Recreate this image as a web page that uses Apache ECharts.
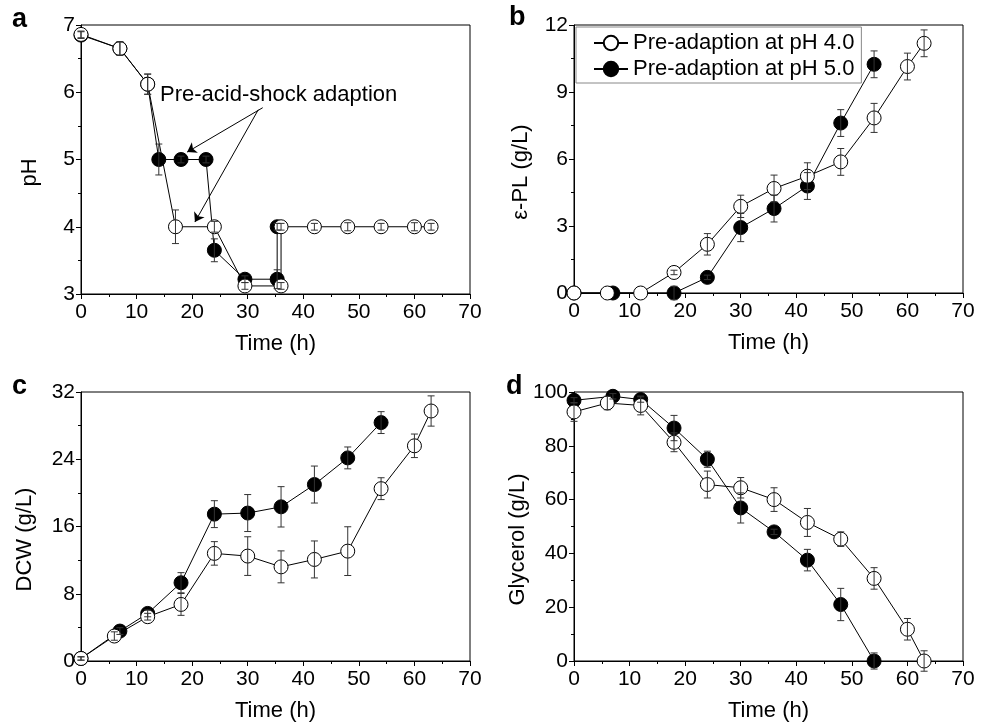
<!DOCTYPE html>
<html>
<head>
<meta charset="utf-8">
<title>pH shock adaption</title>
<script src="https://cdn.jsdelivr.net/npm/echarts@6/dist/echarts.min.js"></script>
<style>
  html, body { margin: 0; padding: 0; background: #fff; }
  #chart { width: 988px; height: 724px; }
</style>
</head>
<body>
<div id="chart"></div>
<script>
// names
const NAME_PH4 = 'Pre-adaption at pH 4.0';
const NAME_PH5 = 'Pre-adaption at pH 5.0';

// a - pH
const timeA4 = [0, 7, 12, 17, 24, 29.5, 36, 36, 42, 48, 54, 60, 63];
const phA4 = [6.86, 6.65, 6.12, 4.0, 4.0, 3.12, 3.12, 4.0, 4.0, 4.0, 4.0, 4.0, 4.0];
const phA4Err = [0.05, 0.1, 0.15, 0.25, 0.08, 0.05, 0.05, 0.05, 0.05, 0.06, 0.05, 0.06, 0.05];
const timeA5 = [0, 7, 12, 14, 18, 22.5, 24, 29.5, 35.3, 35.3];
const phA5 = [6.85, 6.65, 6.12, 5.0, 5.0, 5.0, 3.65, 3.22, 3.22, 4.0];
const phA5Err = [0.05, 0.1, 0.15, 0.23, 0.05, 0.05, 0.17, 0.05, 0.14, 0.05];
// arrows of the annotation, [time, pH] start -> tip
const arrowsA = [
    [[32.7, 5.77], [19.1, 5.11]],
    [[31.9, 5.74], [20.5, 4.07]]
];

// b - e-PL
const timeB4 = [0, 6, 12, 18, 24, 30, 36, 42, 48, 54, 60, 63];
const plB4 = [0, 0, 0, 0.92, 2.18, 3.88, 4.68, 5.23, 5.87, 7.84, 10.14, 11.18];
const plB4Err = [0, 0, 0, 0.1, 0.48, 0.5, 0.6, 0.6, 0.6, 0.65, 0.6, 0.6];
const timeB5 = [0, 7, 18, 24, 30, 36, 42, 48, 54];
const plB5 = [0, 0, 0, 0.7, 2.93, 3.78, 4.79, 7.61, 10.24];
const plB5Err = [0, 0, 0.3, 0.1, 0.63, 0.6, 0.6, 0.6, 0.6];

// c - DCW
const timeC4 = [0, 6, 12, 18, 24, 30, 36, 42, 48, 54, 60, 63];
const dcwC4 = [0.3, 2.97, 5.27, 6.73, 12.8, 12.48, 11.2, 12.08, 13.07, 20.5, 25.6, 29.74];
const dcwC4Err = [0.2, 0.5, 0.4, 1.3, 1.4, 2.3, 1.9, 2.2, 2.9, 1.3, 1.4, 1.8];
const timeC5 = [0, 7, 12, 18, 24, 30, 36, 42, 48, 54];
const dcwC5 = [0.3, 3.56, 5.66, 9.31, 17.47, 17.6, 18.34, 20.99, 24.16, 28.36];
const dcwC5Err = [0.2, 0.4, 0.4, 1.2, 1.6, 2.2, 2.4, 2.2, 1.3, 1.3];

// d - glycerol
const timeD4 = [0, 6, 12, 18, 24, 30, 36, 42, 48, 54, 60, 63];
const glyD4 = [92.6, 95.9, 95.0, 81.3, 65.6, 64.4, 60.0, 51.5, 45.3, 30.7, 11.8, 0];
const glyD4Err = [3.5, 2.5, 3.5, 3.5, 5.0, 3.8, 4.4, 5.2, 2.7, 4.0, 4.0, 3.8];
const timeD5 = [0, 7, 12, 18, 24, 30, 36, 42, 48, 54];
const glyD5 = [96.9, 98.4, 97.2, 86.6, 75.0, 56.9, 48.0, 37.5, 21.0, 0];
const glyD5Err = [1.0, 1.0, 1.0, 4.7, 3.0, 5.6, 1.0, 4.0, 6.0, 3.0];

const FONT = '"Liberation Sans", Arial, sans-serif';

const chart = echarts.init(document.getElementById('chart'), null, { renderer: 'canvas' });

function zip(xs, ys) {
    return xs.map((x, i) => [x, ys[i]]);
}

function zipErr(xs, ys, es) {
    return xs.map((x, i) => [x, ys[i], es[i]]);
}

function renderErrorBar(params, api) {
    const x = api.value(0);
    const y = api.value(1);
    const e = api.value(2);
    if (!e) return null;
    const top = api.coord([x, y + e]);
    const bot = api.coord([x, y - e]);
    const w = 3.5;
    const style = { stroke: '#333', lineWidth: 1 };
    return {
        type: 'group',
        children: [
            { type: 'line', shape: { x1: top[0], y1: top[1], x2: bot[0], y2: bot[1] }, style: style },
            { type: 'line', shape: { x1: top[0] - w, y1: top[1], x2: top[0] + w, y2: top[1] }, style: style },
            { type: 'line', shape: { x1: bot[0] - w, y1: bot[1], x2: bot[0] + w, y2: bot[1] }, style: style }
        ]
    };
}

const grids = [
    { left: 81, top: 25, width: 389, height: 269 },
    { left: 574, top: 25, width: 389, height: 268 },
    { left: 81, top: 392, width: 389, height: 269 },
    { left: 574, top: 392, width: 389, height: 269 }
].map(g => Object.assign({ show: true, borderColor: '#000', borderWidth: 1, backgroundColor: 'transparent' }, g));

function xAxisFor(idx) {
    return {
        type: 'value',
        gridIndex: idx,
        min: 0,
        max: 70,
        interval: 10,
        name: 'Time (h)',
        nameLocation: 'middle',
        nameGap: 39,
        nameTextStyle: { fontFamily: FONT, fontSize: 22, color: '#000' },
        axisLine: { show: true, lineStyle: { color: '#000', width: 1 } },
        axisTick: { show: true, inside: false, length: 5, lineStyle: { color: '#000' } },
        minorTick: { show: true, splitNumber: 2, length: 3, lineStyle: { color: '#000' } },
        axisLabel: { fontFamily: FONT, fontSize: 21, color: '#000', margin: 8 },
        splitLine: { show: false }
    };
}

function yAxisFor(idx, name, min, max, interval, gap) {
    return {
        type: 'value',
        gridIndex: idx,
        min: min,
        max: max,
        interval: interval,
        name: name,
        nameLocation: 'middle',
        nameGap: gap,
        // right padding pushes the rotated name a bit down, as in the original
        nameTextStyle: { fontFamily: FONT, fontSize: 22, color: '#000', padding: [0, 26, 0, 0] },
        axisLine: { show: true, lineStyle: { color: '#000', width: 1 } },
        axisTick: { show: true, inside: false, length: 5, lineStyle: { color: '#000' } },
        minorTick: { show: true, splitNumber: 2, length: 3, lineStyle: { color: '#000' } },
        axisLabel: { fontFamily: FONT, fontSize: 21, color: '#000', margin: 6 },
        splitLine: { show: false }
    };
}

function lineSeries(idx, name, filled, data, extra) {
    return Object.assign({
        name: name,
        type: 'line',
        xAxisIndex: idx,
        yAxisIndex: idx,
        data: data,
        symbol: 'circle',
        symbolSize: 14,
        clip: false,
        z: filled ? 2 : 3,
        lineStyle: { color: '#000', width: 1 },
        itemStyle: { color: filled ? '#000' : '#fff', borderColor: '#000', borderWidth: 1 },
        emphasis: { disabled: true }
    }, extra || {});
}

function errSeries(idx, data) {
    return {
        type: 'custom',
        xAxisIndex: idx,
        yAxisIndex: idx,
        renderItem: renderErrorBar,
        encode: { x: 0, y: 1 },
        data: data,
        z: 5,
        silent: true
    };
}

const panelLabel = (text, left, top) => ({
    type: 'text',
    left: left,
    top: top,
    style: { text: text, font: 'bold 27px ' + FONT, fill: '#000' }
});

let echarts_options = {
    animation: false,
    grid: grids,
    xAxis: [xAxisFor(0), xAxisFor(1), xAxisFor(2), xAxisFor(3)],
    yAxis: [
        yAxisFor(0, 'pH', 3, 7, 1, 40),
        yAxisFor(1, 'ε-PL (g/L)', 0, 12, 3, 42),
        yAxisFor(2, 'DCW (g/L)', 0, 32, 8, 45),
        yAxisFor(3, 'Glycerol (g/L)', 0, 100, 20, 44)
    ],
    legend: {
        data: [NAME_PH4, NAME_PH5],
        orient: 'vertical',
        left: 576,
        top: 27,
        padding: [5, 7, 3, 17],
        itemGap: 4,
        itemWidth: 34,
        itemHeight: 18,
        borderColor: '#888',
        borderWidth: 1,
        selectedMode: false,
        textStyle: { fontFamily: FONT, fontSize: 22, color: '#000' }
    },
    graphic: [
        panelLabel('a', 12, 6),
        panelLabel('b', 509, 4),
        panelLabel('c', 12, 373),
        panelLabel('d', 506, 373),
        {
            type: 'text',
            left: 160,
            top: 84,
            style: { text: 'Pre-acid-shock adaption', font: '22px ' + FONT, fill: '#000' }
        }
    ],
    series: [
        // a
        lineSeries(0, NAME_PH5, true, zip(timeA5, phA5)),
        lineSeries(0, NAME_PH4, false, zip(timeA4, phA4), {
            markLine: {
                silent: true,
                symbol: ['none', 'arrow'],
                symbolSize: 9,
                label: { show: false },
                lineStyle: { color: '#000', width: 1, type: 'solid' },
                data: arrowsA.map(a => [{ coord: a[0] }, { coord: a[1] }])
            }
        }),
        errSeries(0, zipErr(timeA5, phA5, phA5Err)),
        errSeries(0, zipErr(timeA4, phA4, phA4Err)),
        // b
        lineSeries(1, NAME_PH5, true, zip(timeB5, plB5)),
        lineSeries(1, NAME_PH4, false, zip(timeB4, plB4)),
        errSeries(1, zipErr(timeB5, plB5, plB5Err)),
        errSeries(1, zipErr(timeB4, plB4, plB4Err)),
        // c
        lineSeries(2, NAME_PH5, true, zip(timeC5, dcwC5)),
        lineSeries(2, NAME_PH4, false, zip(timeC4, dcwC4)),
        errSeries(2, zipErr(timeC5, dcwC5, dcwC5Err)),
        errSeries(2, zipErr(timeC4, dcwC4, dcwC4Err)),
        // d
        lineSeries(3, NAME_PH5, true, zip(timeD5, glyD5)),
        lineSeries(3, NAME_PH4, false, zip(timeD4, glyD4)),
        errSeries(3, zipErr(timeD5, glyD5, glyD5Err)),
        errSeries(3, zipErr(timeD4, glyD4, glyD4Err))
    ]
};

chart.setOption(echarts_options);
</script>
</body>
</html>
